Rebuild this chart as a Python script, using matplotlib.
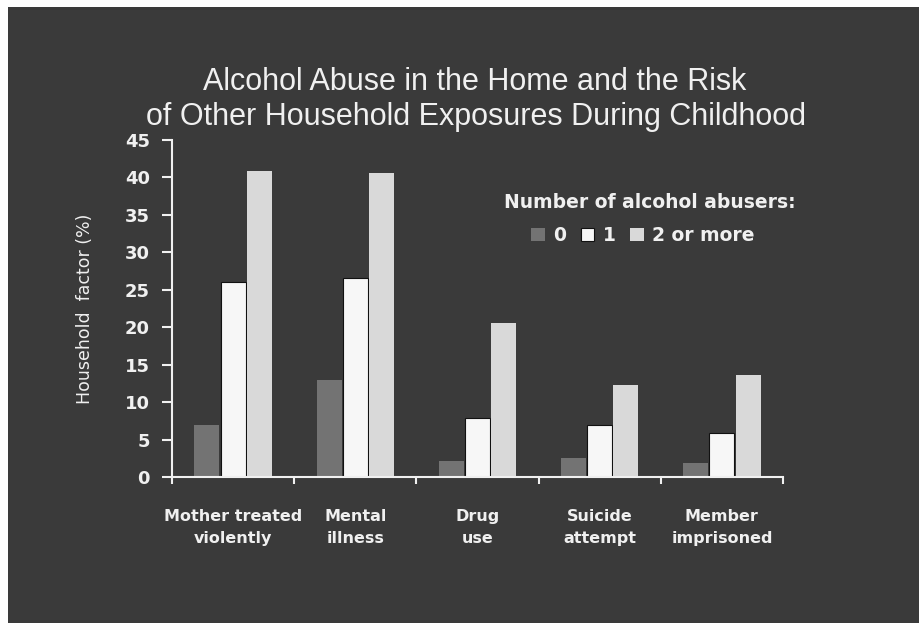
import matplotlib
matplotlib.use("Agg")
import matplotlib.pyplot as plt
from matplotlib.patches import Rectangle
import numpy as np

categories = ["Mother treated\nviolently", "Mental\nillness", "Drug\nuse", "Suicide\nattempt", "Member\nimprisoned"]
series_names = ["0", "1", "2 or more"]
vals_0 = [7.0, 13.0, 2.1, 2.5, 1.9]
vals_1 = [26.1, 26.6, 7.9, 7.0, 5.9]
vals_2 = [40.8, 40.6, 20.6, 12.3, 13.6]
yticks = [0, 5, 10, 15, 20, 25, 30, 35, 40, 45]

BG = "#3a3a3a"
FG = "#f0f0f0"
colors = ["#737373", "#f7f7f7", "#d9d9d9"]

plt.rcParams['font.family'] = ['Liberation Sans', 'DejaVu Sans']
WIDE = ['DejaVu Sans']

W, H = 920, 623
fig = plt.figure(figsize=(W / 100, H / 100), dpi=100)
fig.patch.set_facecolor("white")
fig.add_artist(Rectangle((8 / W, 0), 1 - 8 / W, 1 - 7 / H, transform=fig.transFigure,
                         facecolor=BG, edgecolor="none", zorder=-10))

ax = fig.add_axes([172 / W, 1 - 477 / H, (783 - 172) / W, (477 - 140) / H])
ax.set_facecolor("none")

x = np.arange(len(categories))
off = 0.215
bw = 0.205
ax.bar(x - off, vals_0, bw, color=colors[0], edgecolor="none", label=series_names[0])
ax.bar(x, vals_1, bw, color=colors[1], edgecolor="#111111", linewidth=0.8, label=series_names[1])
ax.bar(x + off, vals_2, bw, color=colors[2], edgecolor="none", label=series_names[2])

ax.set_xlim(-0.5, len(categories) - 0.5)
ax.set_ylim(0, 45)
ax.set_yticks(yticks)
ax.set_yticklabels([str(t) for t in yticks], fontsize=13, fontweight="bold", color=FG,
                   family=WIDE)
ax.set_xticks(np.arange(len(categories) + 1) - 0.5)
ax.set_xticklabels([])
ax.set_xticks(x, minor=True)
ax.set_xticklabels(categories, minor=True, fontsize=11.5, fontweight="bold", color=FG,
                   linespacing=1.6, family=WIDE)
ax.tick_params(axis="x", which="minor", length=0, pad=23)
ax.tick_params(axis="x", which="major", length=5, width=1.5, color=FG, direction="out")
ax.tick_params(axis="y", length=7, width=1.5, color=FG, direction="out", pad=9)
for s in ["top", "right"]:
    ax.spines[s].set_visible(False)
for s in ["left", "bottom"]:
    ax.spines[s].set_color(FG)
    ax.spines[s].set_linewidth(1.5)

ax.set_ylabel("Household  factor (%)", fontsize=12.5, color=FG, labelpad=22, family=WIDE)

fig.text(475 / W, 1 - 82 / H, "Alcohol Abuse in the Home and the Risk", ha="center", va="center",
         fontsize=22, color=FG)
fig.text(476 / W, 1 - 117 / H, "of Other Household Exposures During Childhood", ha="center",
         va="center", fontsize=22, color=FG)

fig.text(650 / W, 1 - 202 / H, "Number of alcohol abusers:", ha="center", va="center",
         fontsize=13.5, fontweight="bold", color=FG, family=WIDE)
leg = ax.legend(ncol=3, frameon=False,
                loc="center", bbox_to_anchor=((643 - 172) / (783 - 172), (477 - 236) / (477 - 140)),
                handlelength=0.7, handleheight=0.7, handletextpad=0.45, columnspacing=0.8,
                prop={"weight": "bold", "size": 13.5, "family": WIDE})
for t in leg.get_texts():
    t.set_color(FG)

fig.savefig("out.png", dpi=100, facecolor=fig.get_facecolor())
